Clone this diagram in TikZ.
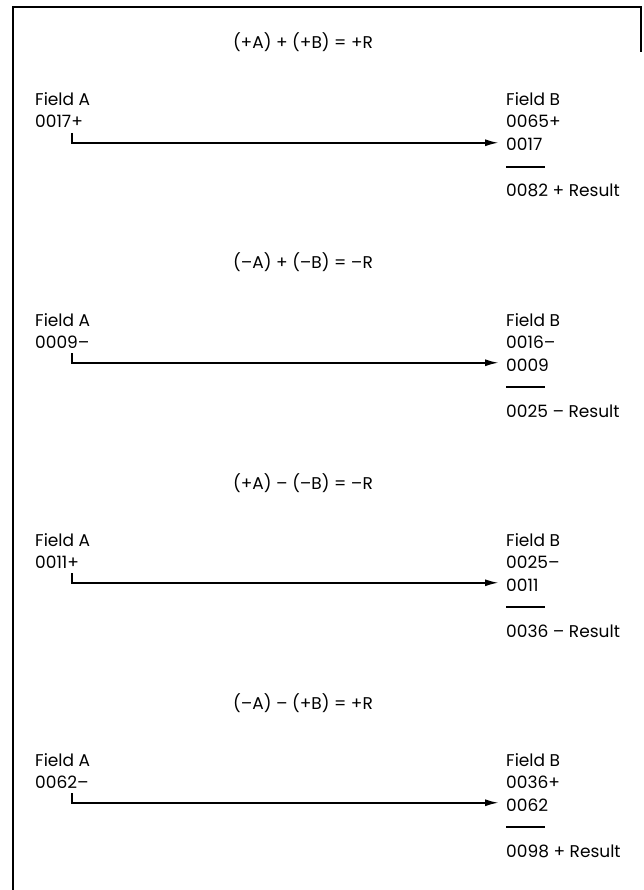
\documentclass[tikz,border=0pt]{standalone}
\usepackage{fontspec}
\setmainfont{Poppins}
\usetikzlibrary{arrows.meta,calc}
\begin{document}
\begin{tikzpicture}[x=1pt,y=-1pt,
  txt/.style={anchor=base west,inner sep=0pt,font=\fontsize{17}{20}\selectfont},
  ttl/.style={anchor=base,inner sep=0pt,font=\fontsize{17}{20}\selectfont},
  arr/.style={line width=2pt,-{Latex[length=14pt,width=7pt]},shorten >=7pt},
  rulebar/.style={line width=1.6pt},
  frm/.style={line width=1.5pt}]
\useasboundingbox (0,0) rectangle (644,890);
\draw[frm] (13,890) -- (13,7) -- (641,7) -- (641,52);
\foreach \t/\a/\b/\c/\r [count=\n from 0] in {
  {(+A) + (+B) = +R}/{0017+}/{0065+}/{0017}/{0082 + Result},
  {(–A) + (–B) = –R}/{0009–}/{0016–}/{0009}/{0025 – Result},
  {(+A) – (–B) = –R}/{0011+}/{0025–}/{0011}/{0036 – Result},
  {(–A) – (+B) = +R}/{0062–}/{0036+}/{0062}/{0098 + Result}}{
  \pgfmathsetmacro\oy{220*\n}
  \node[ttl] (t\n) at (303,\oy+49) {\t};
  \node[txt] (fa\n) at (35,\oy+106) {Field A};
  \node[txt] (va\n) at (35,\oy+128) {\a};
  \node[txt] (fb\n) at (506,\oy+106) {Field B};
  \node[txt] (vb\n) at (506,\oy+128) {\b};
  \node[txt] (vc\n) at (506,\oy+151) {\c};
  \node[txt] (res\n) at (506,\oy+197) {\r};
  \coordinate (s\n) at ($(va\n.base west)+(37,5)$);
  \draw[arr] (s\n) |- ($(vc\n.west)+(0,-2)$);
  \draw[rulebar] ($(vc\n.base west)+(0,16)$) -- ++(39,0);
}
\end{tikzpicture}
\end{document}
